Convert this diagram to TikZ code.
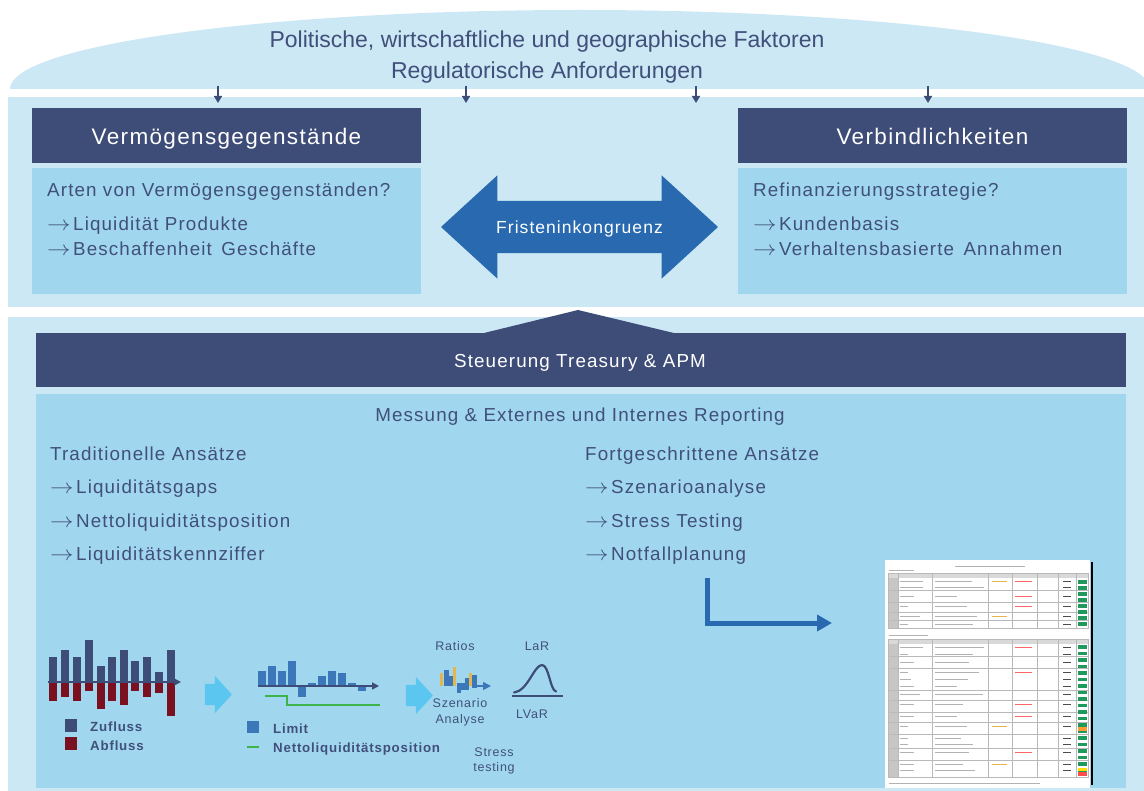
\RequirePackage{fix-cm}
\documentclass[tikz,border=0pt]{standalone}
\usepackage{fontspec}
\setmainfont{Liberation Sans}
\newfontfamily\spaced{Liberation Sans}[LetterSpace=6]
\usetikzlibrary{arrows.meta,shapes.arrows}

\definecolor{panelbg}{HTML}{CCE8F4}
\definecolor{boxbg}{HTML}{A0D7EE}
\definecolor{navy}{HTML}{3E4C78}
\definecolor{ink}{HTML}{414F7B}
\definecolor{flowblue}{HTML}{2869AF}
\definecolor{cyanarr}{HTML}{5BC6F0}
\definecolor{outred}{HTML}{7B1020}
\definecolor{limitblue}{HTML}{3B77B9}
\definecolor{netgreen}{HTML}{3CB44B}
\definecolor{ratioyel}{HTML}{E5B64C}
\definecolor{cellgreen}{HTML}{1F9A5C}

\newcommand{\titlefont}{\fontsize{23}{27}\selectfont}
\newcommand{\headfont}{\spaced\fontsize{22.5}{26}\selectfont}
\newcommand{\bodyfont}{\spaced\fontsize{18.8}{22}\selectfont}
\newcommand{\arrfont}{\spaced\fontsize{17.5}{20}\selectfont}
\newcommand{\smallfont}{\spaced\fontsize{12.5}{15}\selectfont}
\newcommand{\legfont}{\spaced\bfseries\fontsize{13.3}{15}\selectfont}
\newcommand{\pt}{\scalebox{1.25}[1.1]{$\rightarrow$}\kern2.5pt}

\begin{document}
\begin{tikzpicture}[
  x=1pt, y=1pt,
  panel/.style={fill=panelbg, inner sep=0pt, outer sep=0pt},
  card/.style={fill=boxbg, inner sep=0pt, outer sep=0pt},
  headbox/.style={fill=navy, inner sep=0pt, outer sep=0pt},
  headtxt/.style={text=white, font=\headfont, inner sep=0pt, anchor=base},
  bartxt/.style={text=white, font=\bodyfont, inner sep=0pt, anchor=base},
  ttl/.style={text=ink, font=\titlefont, inner sep=0pt, anchor=base},
  txt/.style={text=ink, font=\bodyfont, inner sep=0pt, anchor=base west},
  ctxt/.style={txt, anchor=base},
  lab/.style={text=ink, font=\smallfont, inner sep=0pt, anchor=base},
  leg/.style={text=ink, font=\legfont, inner sep=0pt, anchor=base west},
  down/.style={navy, line width=1.6pt, -{Triangle[length=7pt, width=8pt]}},
  flow/.style={flowblue, line width=5pt, -{Triangle[length=15pt, width=16pt]}},
  axis/.style={navy, line width=1.6pt, -{Triangle[length=7pt, width=7pt]}},
  fatarr/.style={single arrow, fill=cyanarr, minimum height=27pt, minimum width=37pt,
                 single arrow head extend=8pt, single arrow tip angle=95,
                 inner xsep=0pt, inner ysep=10.5pt},
  sheetgrid/.style={gray!55, line width=0.4pt},
  sheetink/.style={gray!60, line width=0.9pt}
]
\useasboundingbox (0,0) rectangle (1144,-791);
% ----- outer factors (dome on top) -----
\fill[panelbg] (10,-89) arc[start angle=180, end angle=0, x radius=570pt, y radius=79pt] -- cycle;
\node[ttl] (fac) at (547,-48) {Politische, wirtschaftliche und geographische Faktoren};
\node[ttl] (reg) at (547,-79) {Regulatorische Anforderungen};
% ----- balance sheet panel -----
\node[panel, minimum width=1136pt, minimum height=210pt] (upper) at (576,-202) {};
\foreach \x [count=\i] in {218,466,696,928}{
  \coordinate (dt\i) at (\x,-86);
  \coordinate (db\i) at (\x,-103);
  \draw[down] (dt\i) -- (db\i);
}
\node[headbox, minimum width=389pt, minimum height=55pt] (assets) at (226.5,-135.5) {};
\node[card, minimum width=389pt, minimum height=126pt] (assetsbox) at (226.5,-231) {};
\node[headbox, minimum width=389pt, minimum height=55pt] (liabs) at (932.5,-135.5) {};
\node[card, minimum width=389pt, minimum height=126pt] (liabsbox) at (932.5,-231) {};
\node[headtxt] (assetst) at (assets.center |- 0,-145) {Vermögensgegenstände};
\node[headtxt] (liabst) at (liabs.center |- 0,-145) {Verbindlichkeiten};
\node[txt] (art) at (47,-197) {Arten von Vermögensgegenständen?};
\node[txt] (prod) at (47,-231) {\pt Liquidität Produkte};
\node[txt] (gesch) at (47,-256) {\pt Beschaffenheit\, Geschäfte};
\node[txt] (refi) at (753,-197) {Refinanzierungsstrategie?};
\node[txt] (kund) at (753,-231) {\pt Kundenbasis};
\node[txt] (verh) at (753,-256) {\pt Verhaltensbasierte\, Annahmen};
% maturity mismatch between both sides
\node[double arrow, fill=flowblue, text=white, font=\arrfont, minimum height=277pt,
      minimum width=103pt, double arrow head extend=25.5pt, double arrow tip angle=85,
      inner xsep=0pt, inner ysep=19.6pt, text depth=0pt] (fri) at (579.5,-227) {Fristeninkongruenz};
% ----- steering panel -----
\node[panel, minimum width=1136pt, minimum height=474pt] (lower) at (576,-554) {};
\fill[navy] (480,-334) -- (578,-310) -- (678,-334) -- cycle;
\node[headbox, minimum width=1090pt, minimum height=54pt] (treas) at (581,-360) {};
\node[card, minimum width=1090pt, minimum height=394pt] (meas) at (581,-591) {};
\node[bartxt] (treast) at (580,-368) {Steuerung Treasury \& APM};
\node[ctxt] (meast) at (580,-422) {Messung \& Externes und Internes Reporting};
\node[txt] (trad) at (50,-461) {Traditionelle Ansätze};
\node[txt] (gaps) at (50,-494) {\pt Liquiditätsgaps};
\node[txt] (netto) at (50,-527) {\pt Nettoliquiditätsposition};
\node[txt] (kenn) at (50,-561) {\pt Liquiditätskennziffer};
\node[txt] (fort) at (585,-461) {Fortgeschrittene Ansätze};
\node[txt] (szen) at (585,-494) {\pt Szenarioanalyse};
\node[txt] (stress) at (585,-527) {\pt Stress Testing};
\node[txt] (notf) at (585,-561) {\pt Notfallplanung};
\coordinate (lstart) at (707,-578);
\coordinate (lend) at (832,-623);
\draw[flow] (lstart) |- (lend);
% ----- cash flow chart -----
\foreach \c/\t/\b in {53/657/701, 65/650/697, 77/657/701, 89/640/691, 101/666/709, 112/657/701,
                      124/650/705, 135/661/691, 147/657/697, 159/672/693, 171/650/716}{
  \fill[navy] (\c-3.8,-682) rectangle (\c+3.8,-\t);
  \fill[outred] (\c-3.8,-682) rectangle (\c+3.8,-\b);
}
\coordinate (cfa) at (48,-682);
\coordinate (cfb) at (181,-682);
\draw[axis] (cfa) -- (cfb);
\fill[navy] (65,-719) rectangle (77,-732);
\fill[outred] (65,-737) rectangle (77,-750);
\node[leg] (zu) at (90,-731) {Zufluss};
\node[leg] (ab) at (90,-750) {Abfluss};
\node[fatarr] (fa1) at (213.5,-694.5) {};
% ----- limit chart -----
\foreach \c/\v in {262/671, 272/666, 282/671, 292/661, 302/697, 312/683, 322/676, 332/671,
                   342/673, 352/683, 362/691}{
  \fill[limitblue] (\c-4,-686) rectangle (\c+4,-\v);
}
\coordinate (lma) at (258,-686);
\coordinate (lmb) at (379,-686);
\draw[axis] (lma) -- (lmb);
\draw[netgreen, line width=2pt] (265,-696) -- (287,-696) -- (287,-705) -- (380,-705);
\fill[limitblue] (247,-721) rectangle (259,-733);
\draw[netgreen, line width=2pt] (247,-747) -- (259,-747);
\node[leg] (lim) at (273,-733) {Limit};
\node[leg] (nlp) at (273,-752) {Nettoliquiditätsposition};
\node[fatarr] (fa2) at (414.5,-695.5) {};
% ----- ratios / scenario / LaR -----
\foreach \xa/\xb/\ya/\yb in {440/443/673/686, 453/456/667/686, 469/472/673/686}{
  \fill[ratioyel] (\xa,-\ya) rectangle (\xb,-\yb);
}
\foreach \xa/\xb/\ya/\yb in {444/449/670/686, 449/453/676/686, 457/461/683/693, 461/465/683/690,
                             465/469/678/690, 472/477/675/688}{
  \fill[limitblue] (\xa,-\ya) rectangle (\xb,-\yb);
}
\coordinate (sca) at (472,-686);
\coordinate (scb) at (491,-686);
\draw[limitblue, line width=1.6pt, -{Triangle[length=8pt, width=8pt]}] (sca) -- (scb);
\node[lab] (rat) at (455,-650) {Ratios};
\node[lab] (szan) at (460,-707) {Szenario};
\node[lab] (szan2) at (460,-723) {Analyse};
\node[lab] (lar) at (537,-650) {LaR};
\node[lab] (lvar) at (532,-718) {LVaR};
\node[lab] (st1) at (494,-756) {Stress};
\node[lab] (st2) at (494,-771) {testing};
\draw[navy, line width=2.4pt] (512,-696) -- (563,-696);
\draw[navy, line width=2.2pt, line cap=round] (514,-692.5) .. controls (528,-691) and (534,-665) .. (542,-665)
  .. controls (549,-665) and (550,-690) .. (556,-691.5);
% ----- report sheet -----
\node[fill=white, minimum width=205pt, minimum height=228pt, inner sep=0pt] (rep) at (987.5,-674) {};
\draw[black, line width=2pt] ([xshift=2pt,yshift=-2pt]rep.north east) -- ([xshift=2pt,yshift=3pt]rep.south east);
\draw[sheetink] (955,-566) -- (1025,-566) (889,-570) -- (914,-570) (889,-635) -- (928,-635);
\foreach \ya/\yb in {573/628, 639/777}{
  \fill[gray!45] (888,-\ya) rectangle (898,-\yb);
  \fill[gray!30] (888,-\ya) rectangle (1088,-\ya-5);
  \draw[sheetgrid] (888,-\ya) rectangle (1088,-\yb);
  \foreach \cx in {898,932,988,1012,1037,1058,1076}{\draw[sheetgrid] (\cx,-\ya) -- (\cx,-\yb);}
}
\foreach \y in {590,602,612,620,656,668,690,700,712,722,734,748,760}{
  \draw[sheetgrid] (888,-\y) -- (1088,-\y);
}
\foreach \y in {580,586,...,626}{\fill[cellgreen] (1078,-\y) rectangle (1087,-\y-3.5);}
\foreach \y in {645,651.5,...,771}{\fill[cellgreen] (1078,-\y) rectangle (1087,-\y-3.5);}
\fill[orange!80] (1078,-727) rectangle (1087,-730.5);
\fill[red!70] (1078,-772) rectangle (1087,-775.5);
\fill[yellow!80!orange] (1078,-768) rectangle (1087,-771);
\foreach \y in {581,587,596,606,616,624,647,654,662,672,679,686,694,704,716,726,738,744,752,764,770}{
  \pgfmathsetmacro{\len}{20+mod(\y*7,30)}
  \draw[sheetink, line width=0.7pt] (935,-\y) -- (935+\len,-\y);
  \pgfmathsetmacro{\lenb}{8+mod(\y*3,18)}
  \draw[sheetink, line width=0.6pt] (900,-\y) -- (900+\lenb,-\y);
  \draw[black!70, line width=0.7pt] (1063,-\y) -- (1071,-\y);
}
\foreach \y in {581,596,606,647,672,704,716,752}{
  \draw[red!60, line width=0.7pt] (1015,-\y) -- (1032,-\y);
}
\foreach \y in {581,616,726,764}{
  \draw[ratioyel, line width=0.7pt] (992,-\y) -- (1007,-\y);
}
\draw[sheetink] (889,-783) -- (1040,-783);
\end{tikzpicture}
\end{document}
